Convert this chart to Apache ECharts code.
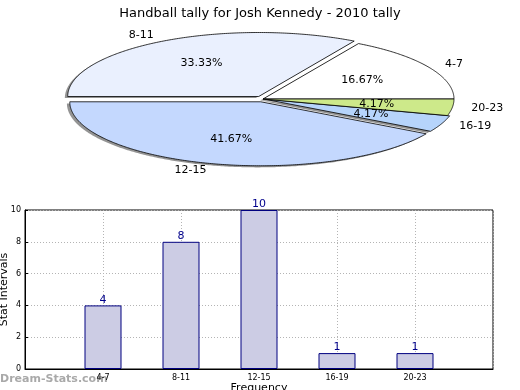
<!DOCTYPE html>
<html>
<head>
<meta charset="utf-8">
<script src="https://cdn.jsdelivr.net/npm/echarts@6/dist/echarts.min.js"></script>
<style>html,body{margin:0;padding:0;background:#fff}#c{width:520px;height:390px}</style>
</head>
<body>
<div id="c"></div>
<script>
// ---- data ----
const titleText = 'Handball tally for Josh Kennedy - 2010 tally';
const pieLabels = ['4-7', '8-11', '12-15', '16-19', '20-23'];
const pieValues = [4, 8, 10, 1, 1];
const barCategories = ['4-7', '8-11', '12-15', '16-19', '20-23'];
const barValues = [4, 8, 10, 1, 1];

// ---- styles / layout ----
const sliceColors = ['#ffffff', '#eaf0fe', '#c4d8fe', '#b6d4fb', '#cde98a'];
const explodeFrac = [0, 0.045, 0.045, 0.012, 0];
const PIE = { cx: 263, cy: 99, rx: 191, ry: 64 };
const FONT = 'DejaVu Sans';

const total = pieValues.reduce((a, b) => a + b, 0);

function ellPt(t, ox, oy, k) {
  return [PIE.cx + ox + k * PIE.rx * Math.cos(t), PIE.cy + oy - k * PIE.ry * Math.sin(t)];
}

function renderSlice(params, api) {
  const i = params.dataIndex;
  const v = api.value(0);
  let before = 0;
  for (let j = 0; j < i; j++) before += pieValues[j];
  const t1 = before / total * 2 * Math.PI;
  const t2 = (before + v) / total * 2 * Math.PI;
  const mid = (t1 + t2) / 2;
  const e = explodeFrac[i];
  const ox = e * PIE.rx * Math.cos(mid);
  const oy = -e * PIE.ry * Math.sin(mid);
  const pts = [[PIE.cx + ox, PIE.cy + oy]];
  const n = Math.max(8, Math.ceil((t2 - t1) / 0.01));
  for (let s = 0; s <= n; s++) {
    pts.push(ellPt(t1 + (t2 - t1) * s / n, ox, oy, 1));
  }
  const sdx = -0.015 * PIE.rx, sdy = 0.025 * PIE.ry;
  const shadowPts = pts.map(p => [p[0] + sdx, p[1] + sdy]);
  const pct = (v / total * 100).toFixed(2) + '%';
  const pp = ellPt(mid, ox, oy, 0.6);
  const lp = ellPt(mid, ox, oy, 1.1);
  const right = Math.cos(mid) > 0;
  return {
    type: 'group',
    children: [
      { type: 'polygon', z2: 0, silent: true, shape: { points: shadowPts },
        style: { fill: 'rgba(60,60,60,0.55)' } },
      { type: 'polygon', z2: 5, shape: { points: pts },
        style: { fill: sliceColors[i], stroke: '#000', lineWidth: 0.8, lineJoin: 'round' } },
      { type: 'text', z2: 10, style: { text: pct, x: pp[0], y: pp[1], align: 'center',
        verticalAlign: 'middle', font: '11px "' + FONT + '"', fill: '#000' } },
      { type: 'text', z2: 10, style: { text: pieLabels[i], x: lp[0], y: lp[1],
        align: right ? 'left' : 'right', verticalAlign: 'middle', font: '11px "' + FONT + '"', fill: '#000' } }
    ]
  };
}

const chart = echarts.init(document.getElementById('c'), null, { renderer: 'canvas' });
const xData = [''].concat(barCategories, ['']);
const yData = ['-'].concat(barValues, ['-']);

chart.setOption({
  animation: false,
  backgroundColor: '#fff',
  textStyle: { fontFamily: FONT },
  title: {
    text: titleText, left: 'center', top: 2,
    textStyle: { fontFamily: FONT, fontSize: 13, fontWeight: 'normal', color: '#000' }
  },
  graphic: [{
    type: 'text', left: 0, top: 374,
    style: { text: 'Dream-Stats.com', font: 'bold 11px "' + FONT + '"', fill: 'rgba(140,140,140,0.75)' }
  }],
  grid: {
    left: 25, right: 27, top: 210, bottom: 21, show: true,
    containLabel: false, outerBoundsMode: 'none',
    borderColor: '#000', borderWidth: 1, backgroundColor: 'transparent'
  },
  xAxis: {
    type: 'category', data: xData, boundaryGap: false,
    name: 'Frequency', nameLocation: 'middle', nameGap: 14, nameMoveOverlap: false,
    nameTextStyle: { fontFamily: FONT, fontSize: 11, color: '#000' },
    axisLine: { lineStyle: { color: '#000' } },
    axisTick: { show: false },
    axisLabel: { fontFamily: FONT, fontSize: 8, color: '#000', margin: 5, interval: 0 },
    splitLine: { show: true, lineStyle: { color: '#b4b4b4', type: [1, 2], width: 1 } }
  },
  yAxis: {
    type: 'value', min: 0, max: 10, interval: 2,
    name: 'Stat Intervals', nameLocation: 'middle', nameGap: 15, nameMoveOverlap: false,
    nameTextStyle: { fontFamily: FONT, fontSize: 11, color: '#000' },
    axisLine: { show: true, lineStyle: { color: '#000' } },
    axisTick: { show: true, inside: true, length: 3, lineStyle: { color: '#000' } },
    axisLabel: { fontFamily: FONT, fontSize: 8, color: '#000', margin: 4 },
    splitLine: { show: true, lineStyle: { color: '#b4b4b4', type: [1, 2], width: 1 } }
  },
  series: [
    {
      type: 'custom', coordinateSystem: 'none', renderItem: renderSlice,
      data: pieValues.map(v => [v]), silent: true
    },
    {
      type: 'bar', data: yData, barWidth: 37,
      itemStyle: { color: '#ccccE4', borderColor: '#000080', borderWidth: 1 },
      label: { show: true, position: 'top', distance: 0, fontFamily: FONT, fontSize: 11, color: '#00008b' }
    }
  ]
});
</script>
</body>
</html>
